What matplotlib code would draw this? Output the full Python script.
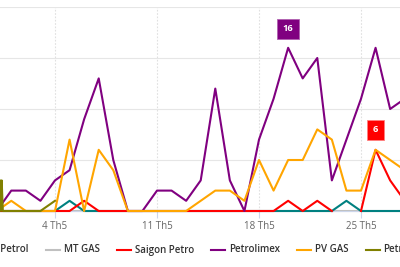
import numpy as np
import matplotlib
matplotlib.use("Agg")
import matplotlib.pyplot as plt
from matplotlib.lines import Line2D

plt.rcParams['font.family'] = ['Open Sans', 'DejaVu Sans']

# day of month (May)
days = list(range(0, 29))

petrolimex = [0, 2, 2, 1, 3, 4, 9, 13, 5, 0, 0, 2, 2, 1, 3, 12, 3, 0, 7, 11, 16, 13, 15, 3, 7, 11, 16, 10, 11]
pv_gas = [0, 1, 0, 0, 0, 7, 0, 6, 4, 0, 0, 0, 0, 0, 1, 2, 2, 1, 5, 2, 5, 5, 8, 7, 2, 2, 6, 5, 4]
saigon_petro = [0, 0, 0, 0, 0, 0, 1, 0, 0, 0, 0, 0, 0, 0, 0, 0, 0, 0, 0, 0, 1, 0, 1, 0, np.nan, 0, 6, 3, 1]
mt_gas = [0] * 29
teal_petrol = [0, 0, 0, 0, 0, 1, 0, 0, 0, 0, 0, 0, 0, 0, 0, 0, 0, 0, 0, 0, 0, 0, 0, 0, 1, 0, 0, 0, 0]
# olive series only has data at the start of the range
olive_days = [0.2, 0.28, 0.34, 0.42, 1, 2, 3, 4]
olive_vals = [3, 0, 3, 0, 0, 0, 0, 1]

legend_labels = ['Hanoi Petrol', 'MT GAS', 'Saigon Petro', 'Petrolimex', 'PV GAS', 'Petrosetco']
legend_colors = ['#008080', '#c0c0c0', '#ff0000', '#800080', '#ffa500', '#808000']

tick_days = [4, 11, 18, 25]
tick_labels = ['4 Th5', '11 Th5', '18 Th5', '25 Th5']

W, H = 400, 267
fig = plt.figure(figsize=(W / 100, H / 100), dpi=100)
ax = fig.add_axes([0, 56 / H, 1, 204 / H])

px_per_day = (361 - 55) / 21.0
x0 = 4 - 55 / px_per_day
ax.set_xlim(x0, x0 + W / px_per_day)
ax.set_ylim(0, 20)

ax.set_yticks([0, 5, 10, 15, 20])
ax.set_yticklabels([])
ax.yaxis.grid(True, color='#e6e6e6', lw=0.8)
ax.set_xticks(tick_days)
ax.set_xticklabels(tick_labels, color='#666666', fontsize=7.0)
ax.xaxis.grid(True, color='#e0e0e0', lw=0.8, ls=(0, (1.5, 1.5)))
ax.tick_params(axis='y', length=0)
ax.tick_params(axis='x', length=5, color='#ccd6eb', width=0.8, pad=2)
ax.set_axisbelow(True)
for s in ['top', 'left', 'right']:
    ax.spines[s].set_visible(False)
ax.spines['bottom'].set_color('#ccd6eb')
ax.spines['bottom'].set_linewidth(0.8)

lw = 1.5
ax.plot(days, mt_gas, color=legend_colors[1], lw=lw, clip_on=False, zorder=2)
ax.plot(days, teal_petrol, color=legend_colors[0], lw=lw, clip_on=False, zorder=3)
ax.plot(days, saigon_petro, color=legend_colors[2], lw=lw, clip_on=False, zorder=4)
ax.plot(days, petrolimex, color=legend_colors[3], lw=lw, clip_on=False, zorder=5)
ax.plot(days, pv_gas, color=legend_colors[4], lw=lw, clip_on=False, zorder=6)
ax.plot(olive_days, olive_vals, color=legend_colors[5], lw=lw, clip_on=False, zorder=7)

# data labels on the peaks
lbl_style = dict(textcoords='offset pixels', ha='center', va='center', color='white',
                 fontsize=6.7, fontweight='bold', zorder=10)
ax.annotate('16', (20, petrolimex[20]), xytext=(0, 19),
            bbox=dict(boxstyle='square,pad=0.6', fc=legend_colors[3], ec='#b060b0', lw=0.6), **lbl_style)
ax.annotate('6', (26, saigon_petro[26]), xytext=(0, 20),
            bbox=dict(boxstyle='square,pad=0.6', fc=legend_colors[2], ec='#ff8080', lw=0.6), **lbl_style)

# legend along the bottom, laid out by hand
renderer = fig.canvas.get_renderer()
ly = (H - 250) / H
texts = []
widths = []
for lab in legend_labels:
    t = fig.text(0, ly, lab, fontsize=7.0, fontweight='semibold', color='#333333', va='center')
    widths.append(t.get_window_extent(renderer).width)
    texts.append(t)

starts = [0] * len(legend_labels)
starts[1] = 46
starts[0] = starts[1] - 17 - widths[0] - 18
for i in range(2, len(legend_labels)):
    starts[i] = starts[i - 1] + 18 + widths[i - 1] + 17
for i, t in enumerate(texts):
    t.set_x((starts[i] + 18) / W)
    fig.add_artist(Line2D([starts[i] / W, (starts[i] + 14) / W], [ly, ly],
                          color=legend_colors[i], lw=1.5, transform=fig.transFigure))

fig.savefig('out.png', dpi=100)
